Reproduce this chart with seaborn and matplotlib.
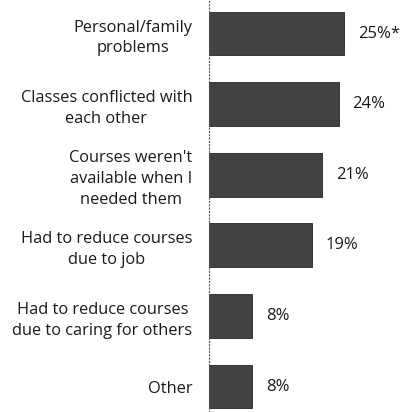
import numpy as np, pandas as pd
import matplotlib; matplotlib.use("Agg")
import matplotlib.pyplot as plt
import seaborn as sns

reasons = ["Personal/family\nproblems", "Classes conflicted with\neach other",
           "Courses weren't\navailable when I\nneeded them", "Had to reduce courses\ndue to job",
           "Had to reduce courses\ndue to caring for others", "Other"]
pct = [25, 24, 21, 19, 8, 8]
pct_labels = ["25%*", "24%", "21%", "19%", "8%", "8%"]

sns.set_style("white")
plt.rcParams['font.family'] = ['Open Sans', 'DejaVu Sans']

d = pd.DataFrame({'reason': reasons, 'pct': pct})
fig = plt.figure(figsize=(4.03, 4.12), dpi=100)
ax = fig.add_axes([209 / 403, 0, 194 / 403, 1])
sns.barplot(data=d, y='reason', x='pct', orient='h', color='#424242', saturation=1,
            width=0.62, ax=ax, edgecolor='#262626', linewidth=0.6)
ax.bar_label(ax.containers[0], labels=pct_labels, padding=10, fontsize=12, color='#1a1a1a')

ax.set_xlim(0, 35.9); ax.set_ylim(5.36, -0.475)
ax.set_xlabel(''); ax.set_ylabel(''); ax.set_xticks([])
ax.tick_params(axis='y', length=0, pad=12, labelsize=11.8, labelcolor='#1a1a1a')
for t in ax.get_yticklabels():
    t.set_multialignment('center')
    t.set_linespacing(1.4)
for s in ['top', 'right', 'bottom']:
    ax.spines[s].set_visible(False)
ax.spines['left'].set_linestyle((0, (1, 2)))
ax.spines['left'].set_color('#555555'); ax.spines['left'].set_linewidth(0.8)

fig.savefig("out.png", dpi=100)
